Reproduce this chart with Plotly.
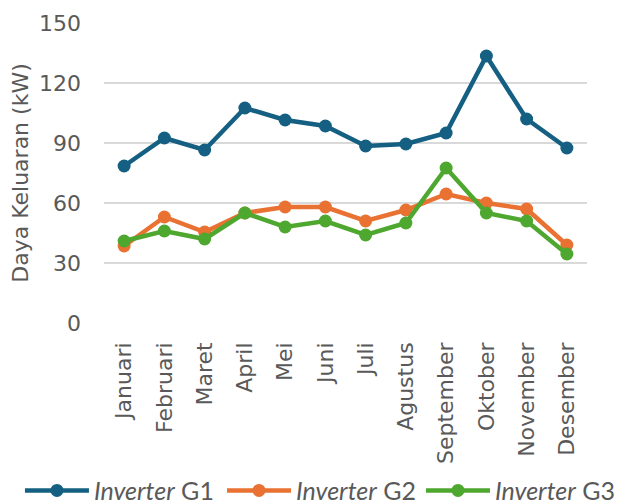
import plotly.graph_objects as go

months = ["Januari", "Februari", "Maret", "April", "Mei", "Juni", "Juli",
          "Agustus", "September", "Oktober", "November", "Desember"]
g1 = [78.5, 92.5, 86.5, 107.5, 101.5, 98.5, 88.5, 89.5, 95, 133.5, 102, 87.5]
g2 = [38.5, 53, 45.5, 55, 58, 58, 51, 56.5, 64.5, 60, 57, 39]
g3 = [41, 46, 42, 55, 48, 51, 44, 50, 77.5, 55, 51, 34.5]

series = [("<i>Inverter</i> G1", g1, "#156082", "legend"),
          ("<i>Inverter</i> G2", g2, "#E97132", "legend2"),
          ("<i>Inverter</i> G3", g3, "#4EA72E", "legend3")]

fig = go.Figure()
for name, vals, col, leg in series:
    fig.add_trace(go.Scatter(x=months, y=vals, name=name, mode="lines+markers",
                             line=dict(color=col, width=4.5),
                             marker=dict(color=col, size=13), legend=leg))

leg_common = dict(orientation="h", xanchor="left", y=-0.559, yanchor="middle",
                  font=dict(family="Lato", size=25, color="#595959"),
                  itemwidth=64, bgcolor="rgba(0,0,0,0)")

fig.update_layout(
    width=618, height=504,
    margin=dict(l=104, r=31, t=23, b=181, autoexpand=False),
    paper_bgcolor="white", plot_bgcolor="white",
    font=dict(family="DejaVu Sans", color="#595959", size=22),
    showlegend=True,
    legend=dict(x=-0.174, **leg_common),
    legend2=dict(x=0.2443, **leg_common),
    legend3=dict(x=0.6563, **leg_common),
    xaxis=dict(type="category", range=[-0.5, 11.5], tickangle=-90,
               showgrid=False, showline=False, zeroline=False, ticks="",
               ticklabelstandoff=14, tickfont=dict(size=22), automargin=False),
    yaxis=dict(range=[0, 150], dtick=30, tick0=0, showgrid=True,
               gridcolor="#D9D9D9", gridwidth=1.5, zeroline=False,
               showline=False, ticks="", ticklabelstandoff=22,
               tickfont=dict(size=22), automargin=False,
               title=dict(text="Daya Keluaran (kW)", font=dict(size=22),
                          standoff=4)),
)

fig.write_html("out.html", config={"displayModeBar": False},
               post_script="document.body.style.margin='0';document.body.style.overflow='hidden';")
